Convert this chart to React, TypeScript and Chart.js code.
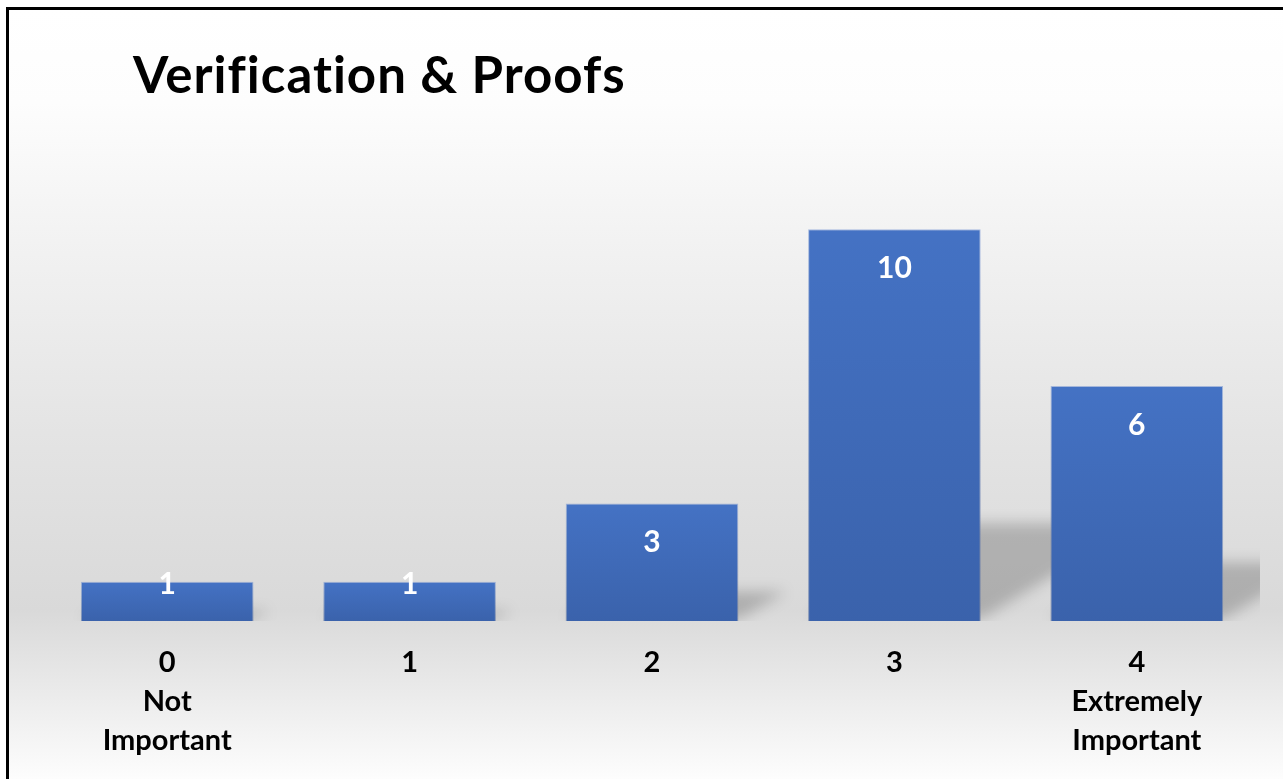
import React, { useEffect, useRef } from "react";
import { Chart, registerables } from "chart.js";

Chart.register(...registerables);

const TITLE = "Verification & Proofs";
const categoryLabels: string[][] = [
  ["0", "Not", "Important"],
  ["1"],
  ["2"],
  ["3"],
  ["4", "Extremely", "Important"],
];
const counts: number[] = [1, 1, 3, 10, 6];
const yMin = 0;
const yMax = 12;

const FONT = "Lato, 'Open Sans', 'DejaVu Sans', sans-serif";

const shadowPlugin = {
  id: "barShadow",
  beforeDatasetsDraw(chart: any) {
    const ctx = chart.ctx;
    const meta = chart.getDatasetMeta(0);
    const ca = chart.chartArea;
    ctx.save();
    ctx.beginPath();
    ctx.rect(ca.left - 20, 0, ca.right - ca.left + 22, ca.bottom);
    ctx.clip();
    ctx.filter = "blur(7px)";
    ctx.fillStyle = "rgba(0,0,0,0.2)";
    meta.data.forEach((el: any) => {
      const { x, y, base, width } = el.getProps(["x", "y", "base", "width"], true);
      const h = base - y;
      const xl = x - width / 2;
      const xr = x + width / 2;
      const dx = h * 0.41;
      const dy = h * 0.25;
      ctx.beginPath();
      ctx.moveTo(xl, base - 2);
      ctx.lineTo(xl + dx, base - dy);
      ctx.lineTo(xr + dx, base - dy);
      ctx.lineTo(xr, base - 2);
      ctx.closePath();
      ctx.fill();
    });
    ctx.restore();
  },
};

const barShadePlugin = {
  id: "barShade",
  afterDatasetsDraw(chart: any) {
    const ctx = chart.ctx;
    const meta = chart.getDatasetMeta(0);
    ctx.save();
    meta.data.forEach((el: any) => {
      const { x, y, base, width } = el.getProps(["x", "y", "base", "width"], true);
      const g = ctx.createLinearGradient(0, y, 0, base);
      g.addColorStop(0, "rgba(10,20,50,0)");
      g.addColorStop(1, "rgba(10,20,50,0.17)");
      ctx.fillStyle = g;
      ctx.fillRect(x - width / 2, y, width, base - y);
    });
    ctx.fillStyle = "#ffffff";
    ctx.font = `bold 30px ${FONT}`;
    ctx.textAlign = "center";
    ctx.textBaseline = "middle";
    meta.data.forEach((el: any, i: number) => {
      const { x, y, base } = el.getProps(["x", "y", "base"], true);
      const ly = Math.min(y + 39, base - 37);
      ctx.fillText(String(counts[i]), x, ly);
    });
    ctx.restore();
  },
};

const titlePlugin = {
  id: "bigTitle",
  afterDraw(chart: any) {
    const ctx = chart.ctx;
    ctx.save();
    ctx.fillStyle = "#000000";
    ctx.font = `bold 51px ${FONT}`;
    (ctx as any).letterSpacing = "1px";
    ctx.textAlign = "left";
    ctx.textBaseline = "alphabetic";
    ctx.fillText(TITLE, 124, 83);
    ctx.restore();
  },
};

export default function App() {
  const ref = useRef<HTMLCanvasElement | null>(null);

  useEffect(() => {
    document.body.style.overflow = "hidden";
    const canvas = ref.current;
    if (!canvas) return;
    const chart = new Chart(canvas, {
      type: "bar",
      data: {
        labels: categoryLabels,
        datasets: [
          {
            data: counts,
            backgroundColor: "#4472C4",
            borderColor: "rgba(120,150,210,0.6)",
            borderWidth: 1,
            categoryPercentage: 1,
            barPercentage: 0.712,
          },
        ],
      },
      options: {
        animation: false,
        responsive: false,
        maintainAspectRatio: false,
        devicePixelRatio: 1,
        layout: { padding: { top: 141, left: 37, right: 25, bottom: 0 } },
        plugins: {
          legend: { display: false },
          tooltip: { enabled: false },
          title: { display: false },
        },
        scales: {
          x: {
            grid: { display: false, drawTicks: false },
            border: { display: false },
            ticks: {
              color: "#000000",
              padding: 22,
              font: { family: FONT, size: 29, weight: "bold", lineHeight: "39px" as any },
              maxRotation: 0,
              autoSkip: false,
            },
            afterFit: (s: any) => {
              s.height = 158;
            },
          },
          y: {
            display: false,
            min: yMin,
            max: yMax,
          },
        },
      },
      plugins: [shadowPlugin, barShadePlugin, titlePlugin],
    });
    return () => chart.destroy();
  }, []);

  return (
    <div
      style={{
        position: "absolute",
        left: 6,
        top: 7,
        width: 1277,
        height: 772,
        borderTop: "3px solid #000",
        borderLeft: "3px solid #000",
        boxSizing: "border-box",
        background:
          "linear-gradient(to bottom, #ffffff 0%, #fdfdfd 12%, #f2f2f2 30%, #e4e4e4 55%, #d9d9d9 78%, #fdfdfd 100%)",
      }}
    >
      <canvas ref={ref} width={1274} height={769} style={{ display: "block", width: 1274, height: 769 }} />
    </div>
  );
}
